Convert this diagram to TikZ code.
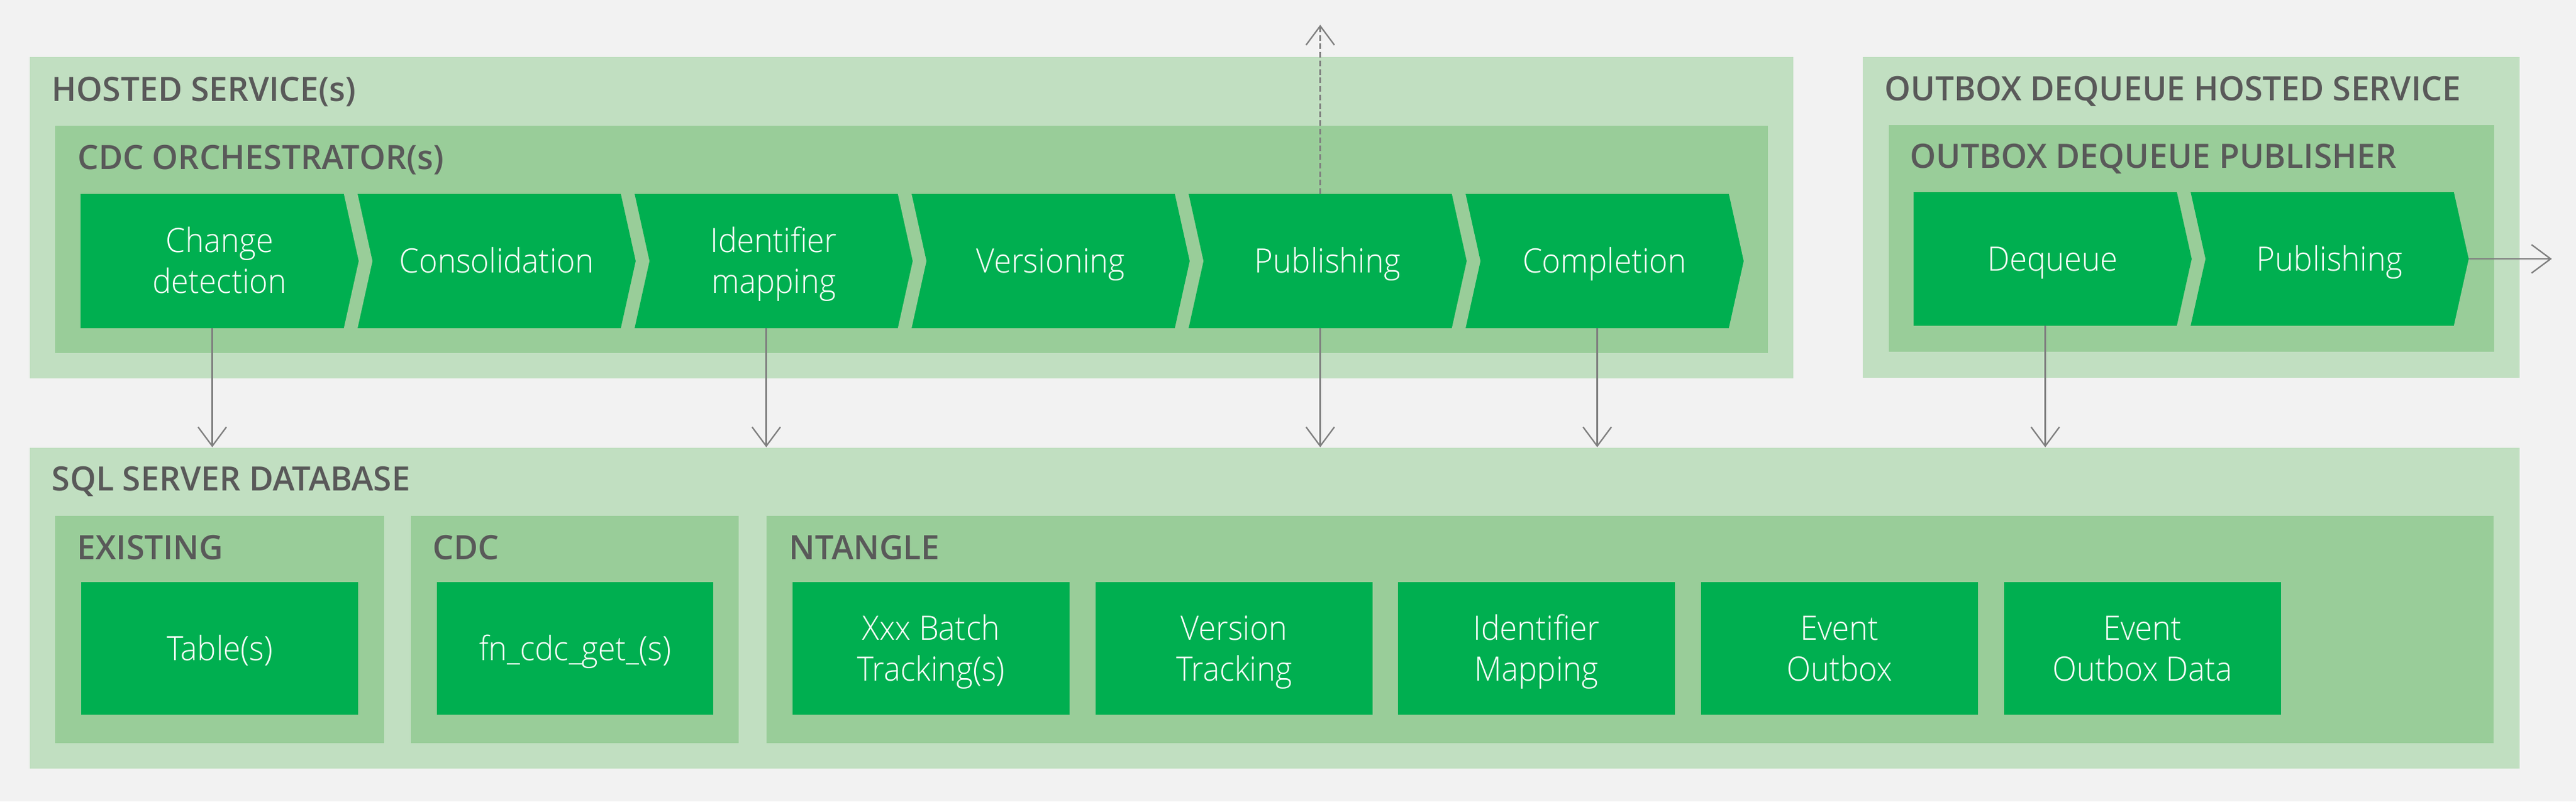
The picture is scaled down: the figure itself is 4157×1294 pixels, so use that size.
\documentclass[tikz,border=0pt]{standalone}
\usepackage{fontspec}
\setmainfont{Open Sans}
\newfontfamily\titlefont{Open Sans Semibold}[FakeStretch=0.985]
\newfontfamily\lightfont{Open Sans Light}[FakeStretch=0.94]
\usetikzlibrary{fit,arrows.meta}
\definecolor{bg}{HTML}{F2F2F2}
\definecolor{outerg}{HTML}{C1DFC1}
\definecolor{innerg}{HTML}{99CD99}
\definecolor{boxg}{HTML}{00AF50}
\definecolor{titleg}{HTML}{595959}
\definecolor{lineg}{HTML}{7F7F7F}
\tikzset{
  outerbox/.style={inner sep=0pt, fill=outerg},
  innerbox/.style={inner sep=0pt, fill=innerg},
  greenbox/.style={inner sep=0pt, fill=boxg},
  chevbox/.style={inner sep=0pt},
  grouptitle/.style={anchor=base west, inner sep=0pt, text=titleg, font=\titlefont\fontsize{13}{15.6}\selectfont},
  boxtext/.style={inner sep=0pt, text=white, align=center, text height=9.3pt, text depth=0pt, font=\lightfont\fontsize{13}{15.84}\selectfont},
  boxtexttwo/.style={boxtext, text height=25.14pt},
  conn/.style={draw=lineg, line width=0.55pt, -{Straight Barb[length=7.4pt,width=11pt]}},
  dashconn/.style={conn, dash pattern=on 2.2pt off 1.1pt}
}
\newcommand\chevflat[1]{\fill[boxg] (#1.north west) -- (#1.north east) -- ([xshift=5.76pt]#1.east) -- (#1.south east) -- (#1.south west) -- cycle;}
\newcommand\chevnotch[1]{\fill[boxg] (#1.north west) -- (#1.north east) -- ([xshift=5.76pt]#1.east) -- (#1.south east) -- (#1.south west) -- ([xshift=5.76pt]#1.west) -- cycle;}
\begin{document}
\begin{tikzpicture}[x=0.24pt,y=-0.24pt]
\fill[bg] (0,0) rectangle (4157,1294);
\useasboundingbox (0,0) rectangle (4157,1294);

% ---------- Hosted services ----------
\node[outerbox, fit={(48,92)(2894,611)}] (hosted) {};
\node[grouptitle] (hostedT) at (83,163) {HOSTED SERVICE(s)};
\node[innerbox, fit={(89,203)(2853,570)}] (orch) {};
\node[grouptitle] (orchT) at (124.5,273.5) {CDC ORCHESTRATOR(s)};

\node[chevbox, fit={(131,314)(554,529)}] (c1) {};
\node[chevbox, fit={(578,314)(1001,529)}] (c2) {};
\node[chevbox, fit={(1025,314)(1448,529)}] (c3) {};
\node[chevbox, fit={(1472,314)(1895,529)}] (c4) {};
\node[chevbox, fit={(1919,314)(2342,529)}] (c5) {};
\node[chevbox, fit={(2366,314)(2789,529)}] (c6) {};
\chevflat{c1}
\chevnotch{c2}\chevnotch{c3}\chevnotch{c4}\chevnotch{c5}\chevnotch{c6}
\node[boxtexttwo] (c1t) at ([xshift=2.88pt]c1.center) {Change\\detection};
\node[boxtext] (c2t) at ([xshift=2.88pt]c2.center) {Consolidation};
\node[boxtexttwo] (c3t) at ([xshift=2.88pt]c3.center) {Identifier\\mapping};
\node[boxtext] (c4t) at ([xshift=2.88pt]c4.center) {Versioning};
\node[boxtext] (c5t) at ([xshift=2.88pt]c5.center) {Publishing};
\node[boxtext] (c6t) at ([xshift=2.88pt]c6.center) {Completion};

% ---------- Outbox dequeue ----------
\node[outerbox, fit={(3006,92)(4066,610)}] (outbox) {};
\node[grouptitle] (outboxT) at (3041,162.5) {OUTBOX DEQUEUE HOSTED SERVICE};
\node[innerbox, fit={(3048,202)(4025,568)}] (pub) {};
\node[grouptitle] (pubT) at (3082,271.5) {OUTBOX DEQUEUE PUBLISHER};
\node[chevbox, fit={(3089,311)(3512,525)}] (d1) {};
\node[chevbox, fit={(3536,311)(3959,525)}] (d2) {};
\chevflat{d1}
\chevnotch{d2}
\node[boxtext] (d1t) at ([xshift=2.88pt]d1.center) {Dequeue};
\node[boxtext] (d2t) at ([xshift=2.88pt]d2.center) {Publishing};

% ---------- SQL Server database ----------
\node[outerbox, fit={(48,723)(4066,1241)}] (sql) {};
\node[grouptitle] (sqlT) at (83,792.5) {SQL SERVER DATABASE};
\node[innerbox, fit={(89,833)(620,1199.5)}] (exist) {};
\node[grouptitle] (existT) at (124,903) {EXISTING};
\node[innerbox, fit={(663,833)(1192,1199.5)}] (cdc) {};
\node[grouptitle] (cdcT) at (698,903) {CDC};
\node[innerbox, fit={(1237,833)(4024,1199.5)}] (nt) {};
\node[grouptitle] (ntT) at (1273,903) {NTANGLE};

\node[greenbox, fit={(131,940)(578,1153.5)}] (tbl) {};
\node[boxtext] (tblt) at (tbl.center) {Table(s)};
\node[greenbox, fit={(705,940)(1151,1153.5)}] (fn) {};
\node[boxtext] (fnt) at (fn.center) {fn\_cdc\_get\_(s)};
\node[greenbox, fit={(1279,940)(1726,1153.5)}] (n1) {};
\node[boxtexttwo] (n1t) at (n1.center) {Xxx Batch\\Tracking(s)};
\node[greenbox, fit={(1768,940)(2215,1153.5)}] (n2) {};
\node[boxtexttwo] (n2t) at (n2.center) {Version\\Tracking};
\node[greenbox, fit={(2256,940)(2703,1153.5)}] (n3) {};
\node[boxtexttwo] (n3t) at (n3.center) {Identifier\\Mapping};
\node[greenbox, fit={(2745,940)(3192,1153.5)}] (n4) {};
\node[boxtexttwo] (n4t) at (n4.center) {Event\\Outbox};
\node[greenbox, fit={(3234,940)(3681,1153.5)}] (n5) {};
\node[boxtexttwo] (n5t) at (n5.center) {Event\\Outbox Data};

% ---------- Connectors ----------
\coordinate (upend) at (2130.5,40);
\coordinate (rightend) at (4118,418);
\draw[conn] (c1.south) -- (c1.south |- sql.north);
\draw[conn] (c3.south) -- (c3.south |- sql.north);
\draw[conn] (c5.south) -- (c5.south |- sql.north);
\draw[conn] (c6.south) -- (c6.south |- sql.north);
\draw[conn] (d1.south) -- (d1.south |- sql.north);
\draw[dashconn] (c5.north) -- (upend);
\draw[conn] ([xshift=5.76pt]d2.east) -- (rightend);
\end{tikzpicture}
\end{document}
